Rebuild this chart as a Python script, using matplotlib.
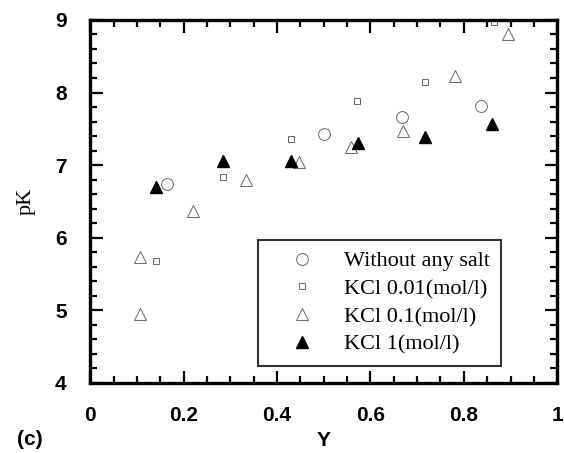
import matplotlib.pyplot as plt
from matplotlib.ticker import MultipleLocator

# datos
sin_sal_x = [0.165, 0.50, 0.668, 0.836]
sin_sal_y = [6.74, 7.43, 7.66, 7.82]

kcl_001_x = [0.141, 0.285, 0.429, 0.572, 0.716, 0.864]
kcl_001_y = [5.68, 6.84, 7.36, 7.88, 8.15, 8.97]

kcl_01_x = [0.107, 0.107, 0.220, 0.334, 0.446, 0.559, 0.669, 0.781, 0.895]
kcl_01_y = [5.74, 4.95, 6.37, 6.80, 7.04, 7.25, 7.47, 8.23, 8.81]

kcl_1_x = [0.141, 0.285, 0.429, 0.573, 0.716, 0.860]
kcl_1_y = [6.70, 7.06, 7.06, 7.30, 7.39, 7.57]

etiquetas = ["Without any salt", "KCl 0.01(mol/l)", "KCl 0.1(mol/l)", "KCl 1(mol/l)"]

fig = plt.figure(figsize=(5.64, 4.53), dpi=100)
ax = fig.add_axes([0.16, 0.155, 0.828, 0.801])

gris = "#666666"
ax.plot(sin_sal_x, sin_sal_y, "o", ls="none", ms=8.5, mfc="none", mec=gris, mew=0.7, label=etiquetas[0])
ax.plot(kcl_001_x, kcl_001_y, "s", ls="none", ms=5, mfc="none", mec=gris, mew=0.7, label=etiquetas[1])
ax.plot(kcl_01_x, kcl_01_y, "^", ls="none", ms=8.5, mfc="none", mec=gris, mew=0.7, label=etiquetas[2])
ax.plot(kcl_1_x, kcl_1_y, "^", ls="none", ms=9, mfc="black", mec="black", label=etiquetas[3])

ax.set_xlim(0, 1)
ax.set_ylim(4, 9)
ax.xaxis.set_major_locator(MultipleLocator(0.2))
ax.xaxis.set_minor_locator(MultipleLocator(0.05))
ax.yaxis.set_major_locator(MultipleLocator(1))
ax.yaxis.set_minor_locator(MultipleLocator(0.2))
ax.set_xticks([0, 0.2, 0.4, 0.6, 0.8, 1])
ax.set_xticklabels(["0", "0.2", "0.4", "0.6", "0.8", "1"])

ax.tick_params(which="both", direction="in", top=True, right=True, width=1.6)
ax.tick_params(which="major", length=9, labelsize=15, pad=17)
ax.tick_params(which="minor", length=5)
for lab in ax.get_xticklabels() + ax.get_yticklabels():
    lab.set_fontfamily("Liberation Sans")
    lab.set_fontweight("bold")
for s in ax.spines.values():
    s.set_linewidth(2.4)

ax.set_ylabel("pK", fontfamily="Liberation Serif", fontsize=16, labelpad=14)
ax.set_xlabel("Y", fontfamily="Liberation Sans", fontsize=15, fontweight="bold", labelpad=4)
fig.text(0.03, 0.029, "(c)", fontfamily="Liberation Sans", fontsize=15, fontweight="bold", va="center")

leg = ax.legend(loc="lower left", bbox_to_anchor=(0.36, 0.046, 0.52, 0.362), mode="expand",
                prop={"family": "Liberation Serif", "size": 16}, frameon=True, fancybox=False,
                borderaxespad=0, handlelength=2.9, handletextpad=0.45, labelspacing=0.33,
                borderpad=0.5)
leg.get_frame().set_edgecolor("black")
leg.get_frame().set_linewidth(1.5)

plt.savefig("out.png", dpi=100)
